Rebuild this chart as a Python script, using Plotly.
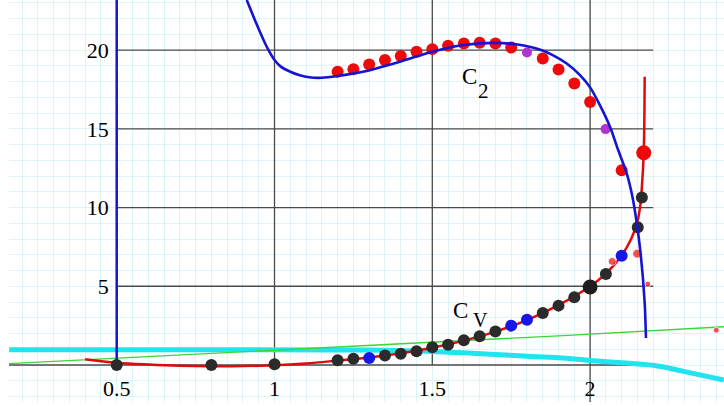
import plotly.graph_objects as go

# ---- data ----
# second sound velocity c2: measured points
c2_T = [1.20, 1.25, 1.30, 1.35, 1.40, 1.45, 1.50, 1.55, 1.60, 1.65, 1.70, 1.75, 1.85, 1.90, 1.95, 2.00, 2.10]
c2_v = [18.62, 18.79, 19.09, 19.37, 19.62, 19.90, 20.06, 20.28, 20.42, 20.46, 20.42, 20.16, 19.47, 18.77, 17.88, 16.70, 12.36]
c2_big_T = [2.17]
c2_big_v = [13.48]
c2_purple_T = [1.80, 2.049]
c2_purple_v = [19.85, 14.98]
small_red_T = [2.07, 2.149, 2.183, 2.40]
small_red_v = [6.58, 7.07, 5.14, 2.21]

# c2 theory curve
c2_fit_T = [0.912, 0.938, 0.955, 0.97, 0.985, 1.0, 1.02, 1.05, 1.08, 1.11, 1.15, 1.20, 1.28, 1.40, 1.50, 1.60, 1.70, 1.77,
            1.84, 1.88, 1.926, 1.968, 2.00, 2.031, 2.063, 2.089, 2.116, 2.133, 2.145, 2.16, 2.173, 2.177]
c2_fit_v = [23.18, 21.9, 21.1, 20.43, 19.85, 19.37, 18.95, 18.62, 18.4, 18.27, 18.24, 18.35, 18.62, 19.28, 19.9, 20.32, 20.46, 20.35,
            20.04, 19.7, 19.15, 18.41, 17.63, 16.5, 15.13, 13.65, 12.17, 10.8, 9.4, 7.1, 3.94, 1.71]
c2_wall_T = [0.5, 0.5]
c2_wall_v = [0.0, 24.0]

# specific heat cv: measured points
cv_T = [0.50, 0.80, 1.00, 1.20, 1.25, 1.35, 1.40, 1.45, 1.50, 1.55, 1.60, 1.65, 1.70, 1.85, 1.90, 1.95, 2.05, 2.151, 2.164]
cv_v = [0.0, 0.0, 0.05, 0.30, 0.40, 0.61, 0.72, 0.87, 1.12, 1.29, 1.57, 1.82, 2.13, 3.30, 3.77, 4.30, 5.78, 8.75, 10.64]
cv_big_T = [2.0]
cv_big_v = [4.95]
cv_blue_T = [1.30, 1.75, 1.80, 2.10]
cv_blue_v = [0.44, 2.50, 2.88, 6.94]

# cv fit curve
cv_fit_T = [0.40, 0.50, 0.60, 0.70, 0.80, 0.90, 1.00, 1.10, 1.20, 1.30, 1.40, 1.50, 1.60, 1.70, 1.80,
            1.90, 2.00, 2.05, 2.10, 2.13, 2.15, 2.16, 2.165, 2.17, 2.173]
cv_fit_v = [0.37, 0.15, 0.03, -0.05, -0.08, -0.07, -0.02, 0.10, 0.28, 0.47, 0.74, 1.10, 1.55, 2.12, 2.85,
            3.80, 5.00, 5.80, 6.95, 8.0, 9.1, 10.3, 11.6, 13.5, 18.3]

# straight green line and cyan curve
green_T = [0.159, 1.90, 2.424]
green_v = [0.09, 1.85, 2.43]
cyan_T = [0.159, 0.8, 1.2, 1.3, 1.4, 1.5, 1.6, 1.7, 1.8, 1.9, 2.0, 2.1, 2.2, 2.3, 2.424]
cyan_v = [0.97, 0.97, 0.96, 0.95, 0.91, 0.86, 0.77, 0.66, 0.56, 0.46, 0.29, 0.14, -0.02, -0.42, -0.95]

x_ticks = [0.5, 1, 1.5, 2]
x_ticktext = ["0.5", "1", "1.5", "2"]
y_ticks = [5, 10, 15, 20]

X_RANGE = [0.1587, 2.4243]
Y_RANGE = [-2.35, 23.18]
SERIF = "Liberation Serif, Times New Roman, serif"
GRID = "#dbf5f8"
DARK = "#4a4a4a"

fig = go.Figure()

# graph-paper style major lines (only over the drawn region)
shapes = []
for xv in [1, 1.5]:
    shapes.append(dict(type="line", x0=xv, x1=xv, y0=0, y1=Y_RANGE[1] + 1, line=dict(color=DARK, width=1.3), layer="between"))
shapes.append(dict(type="line", x0=2, x1=2, y0=Y_RANGE[0] - 1, y1=Y_RANGE[1] + 1, line=dict(color=DARK, width=1.3), layer="between"))
for yv in y_ticks:
    shapes.append(dict(type="line", x0=0.5, x1=2.2, y0=yv, y1=yv, line=dict(color=DARK, width=1.3), layer="between"))
shapes.append(dict(type="line", x0=X_RANGE[0], x1=2.2, y0=0, y1=0, line=dict(color=DARK, width=1.3), layer="between"))

fig.add_trace(go.Scatter(x=cyan_T, y=cyan_v, mode="lines", line=dict(color="#22e3ee", width=5, shape="spline")))
fig.add_trace(go.Scatter(x=green_T, y=green_v, mode="lines", line=dict(color="#3ad63a", width=1.4)))
fig.add_trace(go.Scatter(x=c2_wall_T, y=c2_wall_v, mode="lines", line=dict(color="#1414d2", width=2.5)))
fig.add_trace(go.Scatter(x=cv_fit_T, y=cv_fit_v, mode="lines", line=dict(color="#e00a0a", width=2.5, shape="spline")))

fig.add_trace(go.Scatter(x=c2_T, y=c2_v, mode="markers", marker=dict(color="#ee0a0a", size=12)))
fig.add_trace(go.Scatter(x=c2_big_T, y=c2_big_v, mode="markers", marker=dict(color="#ee0a0a", size=15)))
fig.add_trace(go.Scatter(x=small_red_T, y=small_red_v, mode="markers", marker=dict(color="#ee0a0a", size=[8, 9, 6, 6])))
fig.add_trace(go.Scatter(x=c2_purple_T, y=c2_purple_v, mode="markers", marker=dict(color="#b232d4", size=10)))

fig.add_trace(go.Scatter(x=cv_T, y=cv_v, mode="markers", marker=dict(color="#2b2b2b", size=12)))
fig.add_trace(go.Scatter(x=cv_big_T, y=cv_big_v, mode="markers", marker=dict(color="#1e1e1e", size=15)))
fig.add_trace(go.Scatter(x=cv_blue_T, y=cv_blue_v, mode="markers", marker=dict(color="#1616e6", size=12)))

fig.add_trace(go.Scatter(x=c2_fit_T, y=c2_fit_v, mode="lines", line=dict(color="#1414d2", width=2.6, shape="spline", smoothing=0.8)))

annots = [
    dict(x=1.619, y=18.32, text="C", font=dict(size=23)),
    dict(x=1.661, y=17.43, text="2", font=dict(size=21)),
    dict(x=1.588, y=3.49, text="C", font=dict(size=23)),
    dict(x=1.653, y=2.83, text="V", font=dict(size=20)),
]
for a in annots:
    a.update(showarrow=False, xanchor="center", yanchor="middle")
    a["font"].update(family=SERIF, color="black")

fig.update_layout(
    width=724, height=406, margin=dict(l=9, r=0, t=0, b=4),
    paper_bgcolor="white", plot_bgcolor="white", showlegend=False,
    shapes=shapes, annotations=annots,
    xaxis=dict(range=X_RANGE, tickvals=x_ticks, ticktext=x_ticktext, showgrid=True, gridcolor=GRID, gridwidth=1.2,
               zeroline=False, showline=False, ticks="", anchor="free", position=0.092, ticklabelstandoff=8,
               tickfont=dict(family=SERIF, size=22, color="black"),
               minor=dict(dtick=0.05, tick0=0, showgrid=True, gridcolor=GRID, gridwidth=1.2)),
    yaxis=dict(range=Y_RANGE, tickvals=y_ticks, showgrid=True, gridcolor=GRID, gridwidth=1.2,
               zeroline=False, showline=False, ticks="", anchor="free", position=0.1506, ticklabelstandoff=8,
               tickfont=dict(family=SERIF, size=22, color="black"),
               minor=dict(dtick=1, tick0=0, showgrid=True, gridcolor=GRID, gridwidth=1.2)),
)

fig.write_html("out.html", config={"displayModeBar": False},
               post_script="document.body.style.margin='0';")
